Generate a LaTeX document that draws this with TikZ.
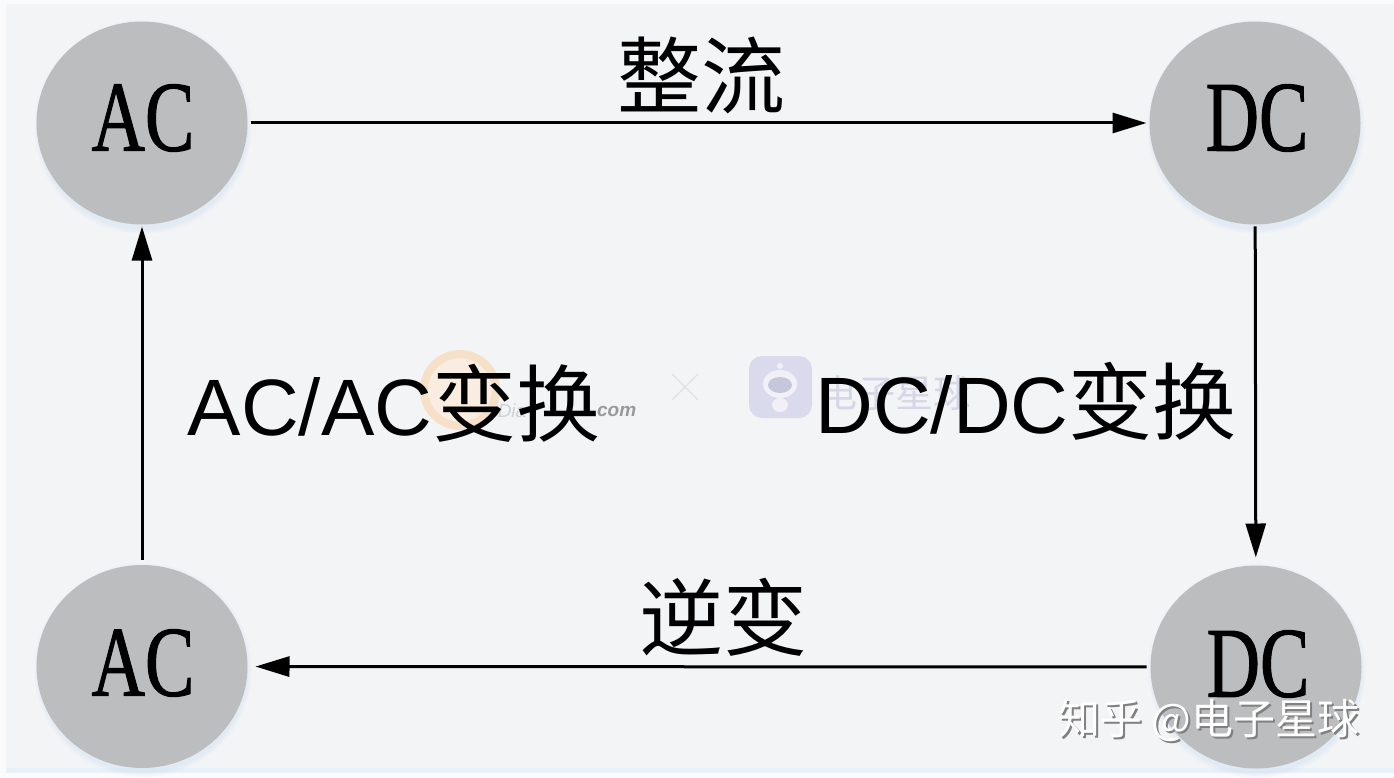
\documentclass[tikz,border=0pt]{standalone}
\usepackage{fontspec}
\setmainfont{Liberation Sans}
\newfontfamily\serifcond[RawFeature={embolden=1.2}]{Liberation Serif}
\newfontfamily\cjk{Noto Sans CJK SC}
\usetikzlibrary{arrows.meta,shapes.geometric}
\definecolor{panel}{HTML}{F3F4F6}
\definecolor{edgecol}{HTML}{FBFBFB}
\definecolor{disc}{HTML}{BCBDBF}
\definecolor{halocol}{HTML}{CBDDF0}
\definecolor{band}{HTML}{E8F1F8}
\definecolor{logoring}{HTML}{F6E0C8}
\definecolor{logofill}{HTML}{F8EDE0}
\definecolor{robotbg}{HTML}{D9DAEC}
\definecolor{robotscr}{HTML}{C4C8DA}
\definecolor{robotlt}{HTML}{F0F0F6}
\definecolor{logotxt}{HTML}{D6D7E6}
\tikzset{
  x=1pt,y=-1pt,
  conv/.style={ellipse,draw=none,fill=disc,minimum width=211pt,minimum height=203pt,inner sep=0pt,outer sep=0pt},
  pole/.style={font=\serifcond\fontsize{100}{100}\selectfont,text=black},
  link/.style={line width=3pt,draw=black,-{Triangle[length=34pt,width=20pt]}},
  hanzi/.style={font=\cjk\fontsize{84}{84}\selectfont,text=black,inner sep=0pt},
  mixed/.style={font=\fontsize{80}{80}\selectfont,text=black,inner sep=0pt},
  wmark/.style={font=\cjk\fontsize{42}{42}\selectfont,inner sep=0pt},
}
\newcommand{\halodisc}[2]{%
  \foreach \r/\o in {107/0.10,105/0.15,103/0.2}{\fill[halocol,opacity=\o] (#1+1,#2+4) ellipse (\r+2 and \r);}}
\begin{document}
\begin{tikzpicture}
\useasboundingbox (0,0) rectangle (1394,778);
\fill[edgecol] (0,0) rectangle (1394,778);
\fill[panel] (6,4) rectangle (1394,768);
\fill[band] (6,768) rectangle (1394,773);
% faint background logos
\fill[logofill] (460,390) circle (36);
\draw[logoring,line width=8pt] (460,390) circle (36);
\node[inner sep=0pt,font=\itshape\bfseries\fontsize{19}{19}\selectfont,text=black!40] (logotext) at (614,411) {.com};
\node[inner sep=0pt,font=\fontsize{19}{19}\selectfont\itshape,text=black!18] (logotextb) at (512,411) {Dia};
\draw[black!12,line width=1.2pt] (672,374) -- (698,400) (698,374) -- (672,400);
\fill[robotbg,rounded corners=13pt] (749,356) rectangle (812,418);
\fill[robotlt] (780,384) ellipse (17 and 14);
\fill[robotscr] (780,385) ellipse (12 and 8);
\fill[robotlt] (780,405) ellipse (8 and 7);
\fill[robotlt] (780,366) circle (3);
\node[inner sep=0pt,font=\cjk\fontsize{38}{38}\selectfont,text=logotxt] (logocjk) at (895,393) {电子星球};
% discs
\halodisc{142}{123}\halodisc{1255}{123}\halodisc{142}{666}\halodisc{1256}{667}
\node[conv] (acTop) at (142,123) {};
\node[conv] (dcTop) at (1255,123) {};
\node[conv] (acBot) at (142,666.5) {};
\node[conv] (dcBot) at (1256,667) {};
\node[pole] (acTopT) at (143,118) {\scalebox{0.74}[1]{AC}};
\node[pole] (dcTopT) at (1257,118) {\scalebox{0.74}[1]{DC}};
\node[pole] (acBotT) at (143,663) {\scalebox{0.74}[1]{AC}};
\node[pole] (dcBotT) at (1258,664) {\scalebox{0.74}[1]{DC}};
% connectors
\draw[link,shorten <=3pt,shorten >=3pt] (acTop) -- (dcTop);
\draw[link,shorten <=2pt,shorten >=8pt] (dcTop) -- (dcBot);
\draw[link,shorten <=4pt,shorten >=8pt] (dcBot) -- (acBot);
\draw[link,shorten <=5pt,shorten >=2pt] (acBot) -- (acTop);
% labels
\node[hanzi] (rect) at (701,75) {整流};
\node[hanzi] (inv) at (723,617) {逆变};
\node[mixed] (acac) at (394,403) {AC/AC{\cjk\fontsize{84}{84}\selectfont 变换}};
\node[mixed] (dcdc) at (1026,401) {DC/DC{\cjk\fontsize{84}{84}\selectfont 变换}};
% watermark
\node[wmark,text=black!50] (wmS) at (1211,722) {知乎 @电子星球};
\node[wmark,text=white] (wm) at (1209,720) {知乎 @电子星球};
\end{tikzpicture}
\end{document}
